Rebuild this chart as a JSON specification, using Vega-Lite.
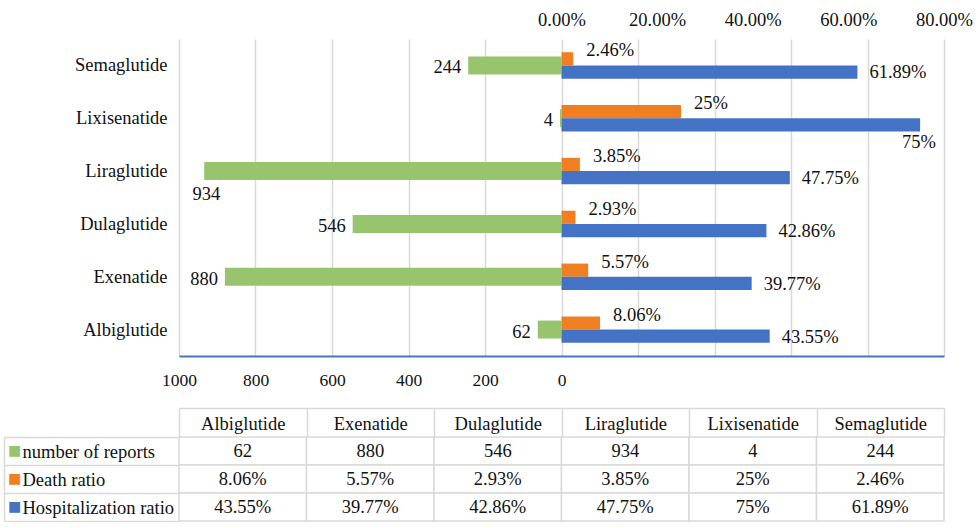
{
  "$schema": "https://vega.github.io/schema/vega-lite/v6.json",
  "padding": {"left": 3, "top": 10, "right": 0, "bottom": 0},
  "bounds": "flush",
  "spacing": 81,
  "config": {
    "font": "Liberation Serif",
    "view": {"stroke": null},
    "text": {"fontSize": 18.5, "color": "#111111", "font": "Liberation Serif"},
    "axis": {"labelFont": "Liberation Serif", "labelColor": "#111111", "labelFontSize": 18.5, "title": null, "labelFlush": false}
  },
  "datasets": {
    "drugs": [
      {"drug": "Albiglutide", "number of reports": 62, "Death ratio": 0.0806, "Hospitalization ratio": 0.4355},
      {"drug": "Exenatide", "number of reports": 880, "Death ratio": 0.0557, "Hospitalization ratio": 0.3977},
      {"drug": "Dulaglutide", "number of reports": 546, "Death ratio": 0.0293, "Hospitalization ratio": 0.4286},
      {"drug": "Liraglutide", "number of reports": 934, "Death ratio": 0.0385, "Hospitalization ratio": 0.4775},
      {"drug": "Lixisenatide", "number of reports": 4, "Death ratio": 0.25, "Hospitalization ratio": 0.75},
      {"drug": "Semaglutide", "number of reports": 244, "Death ratio": 0.0246, "Hospitalization ratio": 0.6189}
    ]
  },
  "vconcat": [
    {
      "width": 765,
      "height": 317,
      "data": {"name": "drugs"},
      "encoding": {
        "y": {
          "field": "drug",
          "type": "nominal",
          "scale": {
            "domain": ["Semaglutide", "Lixisenatide", "Liraglutide", "Dulaglutide", "Exenatide", "Albiglutide"],
            "paddingInner": 0,
            "paddingOuter": 0
          },
          "axis": {"ticks": false, "domain": false, "grid": false, "labelPadding": 12, "labelFont": "Liberation Serif"}
        }
      },
      "layer": [
        {
          "layer": [
            {
              "mark": {"type": "bar", "height": 18, "color": "#99C46E"},
              "encoding": {
                "x": {
                  "field": "number of reports",
                  "type": "quantitative",
                  "scale": {"domain": [-1000, 1000], "reverse": true, "nice": false, "zero": false},
                  "axis": {
                    "orient": "bottom",
                    "values": [1000, 800, 600, 400, 200, 0, -200, -400, -600, -800, -1000],
                    "format": "d",
                    "labelExpr": "datum.value >= 0 ? datum.label : ''",
                    "labelFlush": false,
                    "labelFont": "Liberation Serif",
                    "ticks": false,
                    "grid": true,
                    "gridColor": "#d9d9d9",
                    "gridWidth": 1.5,
                    "domainColor": "#4472C4",
                    "domainWidth": 2,
                    "labelPadding": 15,
                    "labelFontSize": 17.5
                  }
                }
              }
            },
            {
              "mark": {
                "type": "text",
                "font": "Liberation Serif",
                "align": "right",
                "baseline": "middle",
                "dx": {"expr": "datum['number of reports'] > 900 ? 16 : -7"},
                "dy": {"expr": "datum['number of reports'] > 900 ? 23 : 2"}
              },
              "encoding": {
                "x": {"field": "number of reports", "type": "quantitative"},
                "text": {"field": "number of reports", "type": "quantitative", "format": "d"}
              }
            }
          ]
        },
        {
          "transform": [{"fold": ["Death ratio", "Hospitalization ratio"], "as": ["series", "ratio"]}],
          "layer": [
            {
              "mark": {"type": "bar"},
              "encoding": {
                "x": {
                  "field": "ratio",
                  "type": "quantitative",
                  "scale": {"domain": [-0.8, 0.8], "nice": false, "zero": false},
                  "axis": {
                    "orient": "top",
                    "values": [0, 0.2, 0.4, 0.6, 0.8],
                    "format": ".2%",
                    "labelFlush": false,
                    "labelFont": "Liberation Serif",
                    "ticks": false,
                    "domain": false,
                    "grid": false,
                    "labelPadding": 10
                  }
                },
                "yOffset": {
                  "field": "series",
                  "type": "nominal",
                  "scale": {"paddingInner": 0, "paddingOuter": 1.64}
                },
                "color": {
                  "field": "series",
                  "type": "nominal",
                  "scale": {"domain": ["Death ratio", "Hospitalization ratio"], "range": ["#F07F22", "#4472C4"]},
                  "legend": null
                }
              }
            },
            {
              "transform": [{"filter": "datum.series === 'Death ratio'"}],
              "mark": {"type": "text", "font": "Liberation Serif", "align": "left", "baseline": "middle", "dx": 13, "dy": -15},
              "encoding": {
                "x": {"field": "ratio", "type": "quantitative"},
                "text": {"field": "ratio", "type": "quantitative", "format": ".2~%"}
              }
            },
            {
              "transform": [{"filter": "datum.series === 'Hospitalization ratio'"}],
              "mark": {
                "type": "text",
                "font": "Liberation Serif",
                "align": "left",
                "baseline": "middle",
                "dx": {"expr": "datum.ratio > 0.7 ? -18 : 12"},
                "dy": {"expr": "datum.ratio > 0.7 ? 24 : 7"}
              },
              "encoding": {
                "x": {"field": "ratio", "type": "quantitative"},
                "text": {"field": "ratio", "type": "quantitative", "format": ".2~%"}
              }
            }
          ]
        }
      ],
      "resolve": {"scale": {"x": "independent"}, "axis": {"x": "independent"}}
    },
    {
      "width": 765,
      "height": 84,
      "data": {"name": "drugs"},
      "transform": [{"fold": ["number of reports", "Death ratio", "Hospitalization ratio"], "as": ["row", "value"]}],
      "layer": [
        {
          "mark": {"type": "rect", "fill": "#ffffff", "stroke": "#d9d9d9", "strokeWidth": 1.5},
          "encoding": {
            "x": {
              "field": "drug",
              "type": "nominal",
              "scale": {
                "domain": ["Albiglutide", "Exenatide", "Dulaglutide", "Liraglutide", "Lixisenatide", "Semaglutide"],
                "paddingInner": 0,
                "paddingOuter": 0
              },
              "axis": {
                "orient": "top",
                "offset": 29,
                "tickSize": -29,
                "tickBand": "extent",
                "tickColor": "#d9d9d9",
                "tickWidth": 1.5,
                "domainColor": "#d9d9d9",
                "domainWidth": 1.5,
                "labelAngle": 0,
                "labelBaseline": "middle",
                "labelPadding": 14,
                "labelFont": "Liberation Serif",
                "grid": false
              }
            },
            "y": {
              "field": "row",
              "type": "nominal",
              "scale": {
                "domain": ["number of reports", "Death ratio", "Hospitalization ratio"],
                "paddingInner": 0,
                "paddingOuter": 0
              },
              "axis": {
                "orient": "left",
                "offset": 175,
                "tickSize": -175,
                "tickBand": "extent",
                "tickColor": "#d9d9d9",
                "tickWidth": 1.5,
                "domainColor": "#d9d9d9",
                "domainWidth": 1.5,
                "labelAlign": "left",
                "labelBaseline": "middle",
                "labelPadding": 157,
                "labelFont": "Liberation Serif",
                "grid": false
              }
            }
          }
        },
        {
          "transform": [{"filter": "datum.row === 'number of reports'"}],
          "mark": {"type": "text", "font": "Liberation Serif", "align": "center", "baseline": "middle"},
          "encoding": {
            "x": {"field": "drug", "type": "nominal"},
            "y": {
              "field": "row",
              "type": "nominal",
              "axis": {
                "orient": "left",
                "offset": 175,
                "ticks": false,
                "domain": false,
                "grid": false,
                "labelExpr": "'■'",
                "labelFont": "DejaVu Sans",
                "labelFontSize": 14,
                "labelAlign": "center",
                "labelBaseline": "middle",
                "labelPadding": -10,
                "labelColor": {
                  "condition": [
                    {"test": "datum.value === 'number of reports'", "value": "#99C46E"},
                    {"test": "datum.value === 'Death ratio'", "value": "#F07F22"}
                  ],
                  "value": "#4472C4"
                }
              }
            },
            "text": {"field": "value", "type": "quantitative", "format": "d"}
          }
        },
        {
          "transform": [{"filter": "datum.row !== 'number of reports'"}],
          "mark": {"type": "text", "font": "Liberation Serif", "align": "center", "baseline": "middle"},
          "encoding": {
            "x": {"field": "drug", "type": "nominal"},
            "y": {"field": "row", "type": "nominal", "axis": null},
            "text": {"field": "value", "type": "quantitative", "format": ".2~%"}
          }
        }
      ],
      "resolve": {"axis": {"y": "independent"}}
    }
  ]
}
